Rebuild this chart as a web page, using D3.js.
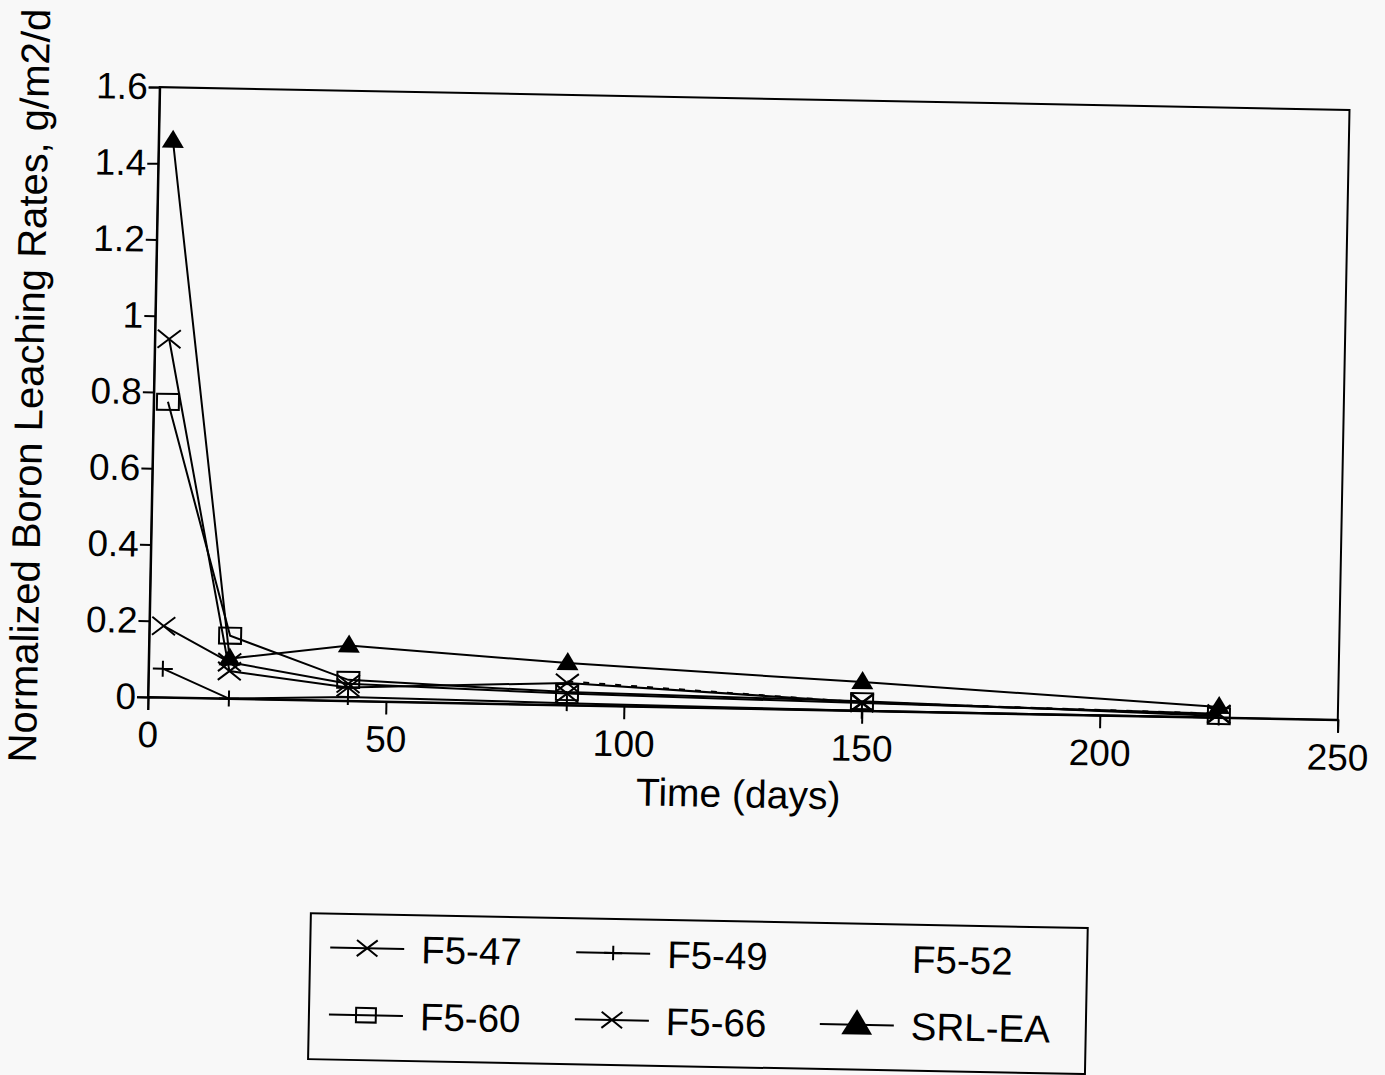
<!DOCTYPE html>
<html>
<head>
<meta charset="utf-8">
<script src="https://cdn.jsdelivr.net/npm/d3@7"></script>
<style>
  body { margin: 0; background: #f8f8f8; }
  svg { display: block; }
  text { font-family: "Liberation Sans", Arial, Helvetica, sans-serif; fill: #000; }
</style>
</head>
<body>
<svg id="chart" width="1385" height="1075"></svg>
<script>
// days of sampling
var days = [3, 17, 42, 88, 150, 225];
var daysF552 = [88, 150, 225];

// normalized boron leaching rates, g/m2/d
var f547 = [0.187, 0.095, 0.045, 0.030, 0.020, 0.010];
var f549 = [0.075, 0.000, 0.010, 0.005, 0.000, 0.000];
var f552 = [0.062, 0.022, 0.010];
var f560 = [0.775, 0.165, 0.055, 0.034, 0.025, 0.004];
var f566 = [0.940, 0.072, 0.035, 0.058, 0.022, 0.008];
var srlEa = [1.460, 0.105, 0.145, 0.110, 0.075, 0.028];

var xTicks = [0, 50, 100, 150, 200, 250];
var yTicks = [0, 0.2, 0.4, 0.6, 0.8, 1, 1.2, 1.4, 1.6];

var series = [
  { name: "F5-47", x: days, y: f547, mark: "x", dash: null },
  { name: "F5-49", x: days, y: f549, mark: "plus", dash: null },
  { name: "F5-52", x: daysF552, y: f552, mark: "none", dash: "6,10" },
  { name: "F5-60", x: days, y: f560, mark: "square", dash: null },
  { name: "F5-66", x: days, y: f566, mark: "x", dash: null },
  { name: "SRL-EA", x: days, y: srlEa, mark: "tri", dash: null }
];

var svg = d3.select("#chart");

// the scanned page is a little tilted, so everything hangs off one rotated group
var plotLeft = 148, plotBottom = 697, plotW = 1190, plotH = 610, plotTop = plotBottom - plotH;
var page = svg.append("g").attr("transform", "rotate(1.1," + plotLeft + "," + plotBottom + ")");

var x = d3.scaleLinear().domain([0, 250]).range([plotLeft, plotLeft + plotW]);
var y = d3.scaleLinear().domain([0, 1.6]).range([plotBottom, plotTop]);

// frame
page.append("rect")
  .attr("x", plotLeft).attr("y", plotTop)
  .attr("width", plotW).attr("height", plotH)
  .attr("fill", "none").attr("stroke", "#000").attr("stroke-width", 2);

var xAxis = page.append("g")
  .attr("transform", "translate(0," + plotBottom + ")")
  .call(d3.axisBottom(x).tickValues(xTicks).tickSize(13).tickPadding(11).tickFormat(d3.format("d")));
var yAxis = page.append("g")
  .attr("transform", "translate(" + plotLeft + ",0)")
  .call(d3.axisLeft(y).tickValues(yTicks).tickSize(11).tickPadding(1).tickFormat(d3.format("~g")));

[xAxis, yAxis].forEach(function(a){
  a.select(".domain").attr("stroke-width", 2);
  a.selectAll(".tick line").attr("stroke-width", 2);
  a.selectAll("text").style("font-size", "37px").attr("font-family", null);
});

// axis titles
page.append("text")
  .attr("x", plotLeft + plotW / 2 - 3).attr("y", plotBottom + 99)
  .attr("text-anchor", "middle")
  .style("font-size", "39px")
  .text("Time (days)");

page.append("text")
  .attr("transform", "translate(37," + 388 + ") rotate(-90)")
  .attr("text-anchor", "middle")
  .style("font-size", "40px")
  .text("Normalized Boron Leaching Rates, g/m2/d");

// markers
var drawMark = function(sel, type, k) {
  if (type === "x") {
    sel.append("path")
      .attr("d", "M" + (-11.5 * k) + "," + (-9 * k) + "L" + (11.5 * k) + "," + (9 * k) +
                 "M" + (-11.5 * k) + "," + (9 * k) + "L" + (11.5 * k) + "," + (-9 * k))
      .attr("stroke", "#000").attr("stroke-width", 2).attr("fill", "none");
  } else if (type === "plus") {
    sel.append("path")
      .attr("d", "M" + (-10 * k) + ",0H" + (10 * k) + "M0," + (-8 * k) + "V" + (8 * k))
      .attr("stroke", "#000").attr("stroke-width", 2).attr("fill", "none");
  } else if (type === "square") {
    sel.append("rect")
      .attr("x", -11 * k).attr("y", -8 * k)
      .attr("width", 22 * k).attr("height", 16 * k)
      .attr("stroke", "#000").attr("stroke-width", 2).attr("fill", "none");
  } else if (type === "tri") {
    sel.append("path")
      .attr("d", "M0," + (-11 * k) + "L" + (11 * k) + "," + (7 * k) + "L" + (-11 * k) + "," + (7 * k) + "Z")
      .attr("fill", "#000");
  }
};

var line = d3.line()
  .x(function(d){ return x(d[0]); })
  .y(function(d){ return y(d[1]); });

series.forEach(function(s){
  var pts = s.x.map(function(v, i){ return [v, s.y[i]]; });
  page.append("path")
    .datum(pts)
    .attr("d", line)
    .attr("fill", "none")
    .attr("stroke", "#000")
    .attr("stroke-width", 2)
    .attr("stroke-dasharray", s.dash);
  pts.forEach(function(p){
    var m = page.append("g").attr("transform", "translate(" + x(p[0]) + "," + y(p[1]) + ")");
    drawMark(m, s.mark, 1);
  });
});

// legend
var legend = page.append("g");
legend.append("rect")
  .attr("x", 315).attr("y", 910)
  .attr("width", 777).attr("height", 146)
  .attr("fill", "none").attr("stroke", "#000").attr("stroke-width", 2);

var legCols = [372, 618, 863];
var legRows = [944, 1011];

series.forEach(function(s, i){
  var cx = legCols[i % 3], cy = legRows[Math.floor(i / 3)];
  var item = legend.append("g").attr("transform", "translate(" + cx + "," + cy + ")");
  if (s.mark !== "none") {
    item.append("line")
      .attr("x1", -37).attr("x2", 37)
      .attr("stroke", "#000").attr("stroke-width", 2);
    drawMark(item, s.mark, s.mark === "tri" ? 1.4 : 0.9);
  }
  item.append("text")
    .attr("x", 54).attr("y", 14)
    .style("font-size", "38.5px")
    .text(s.name);
});
</script>
</body>
</html>
